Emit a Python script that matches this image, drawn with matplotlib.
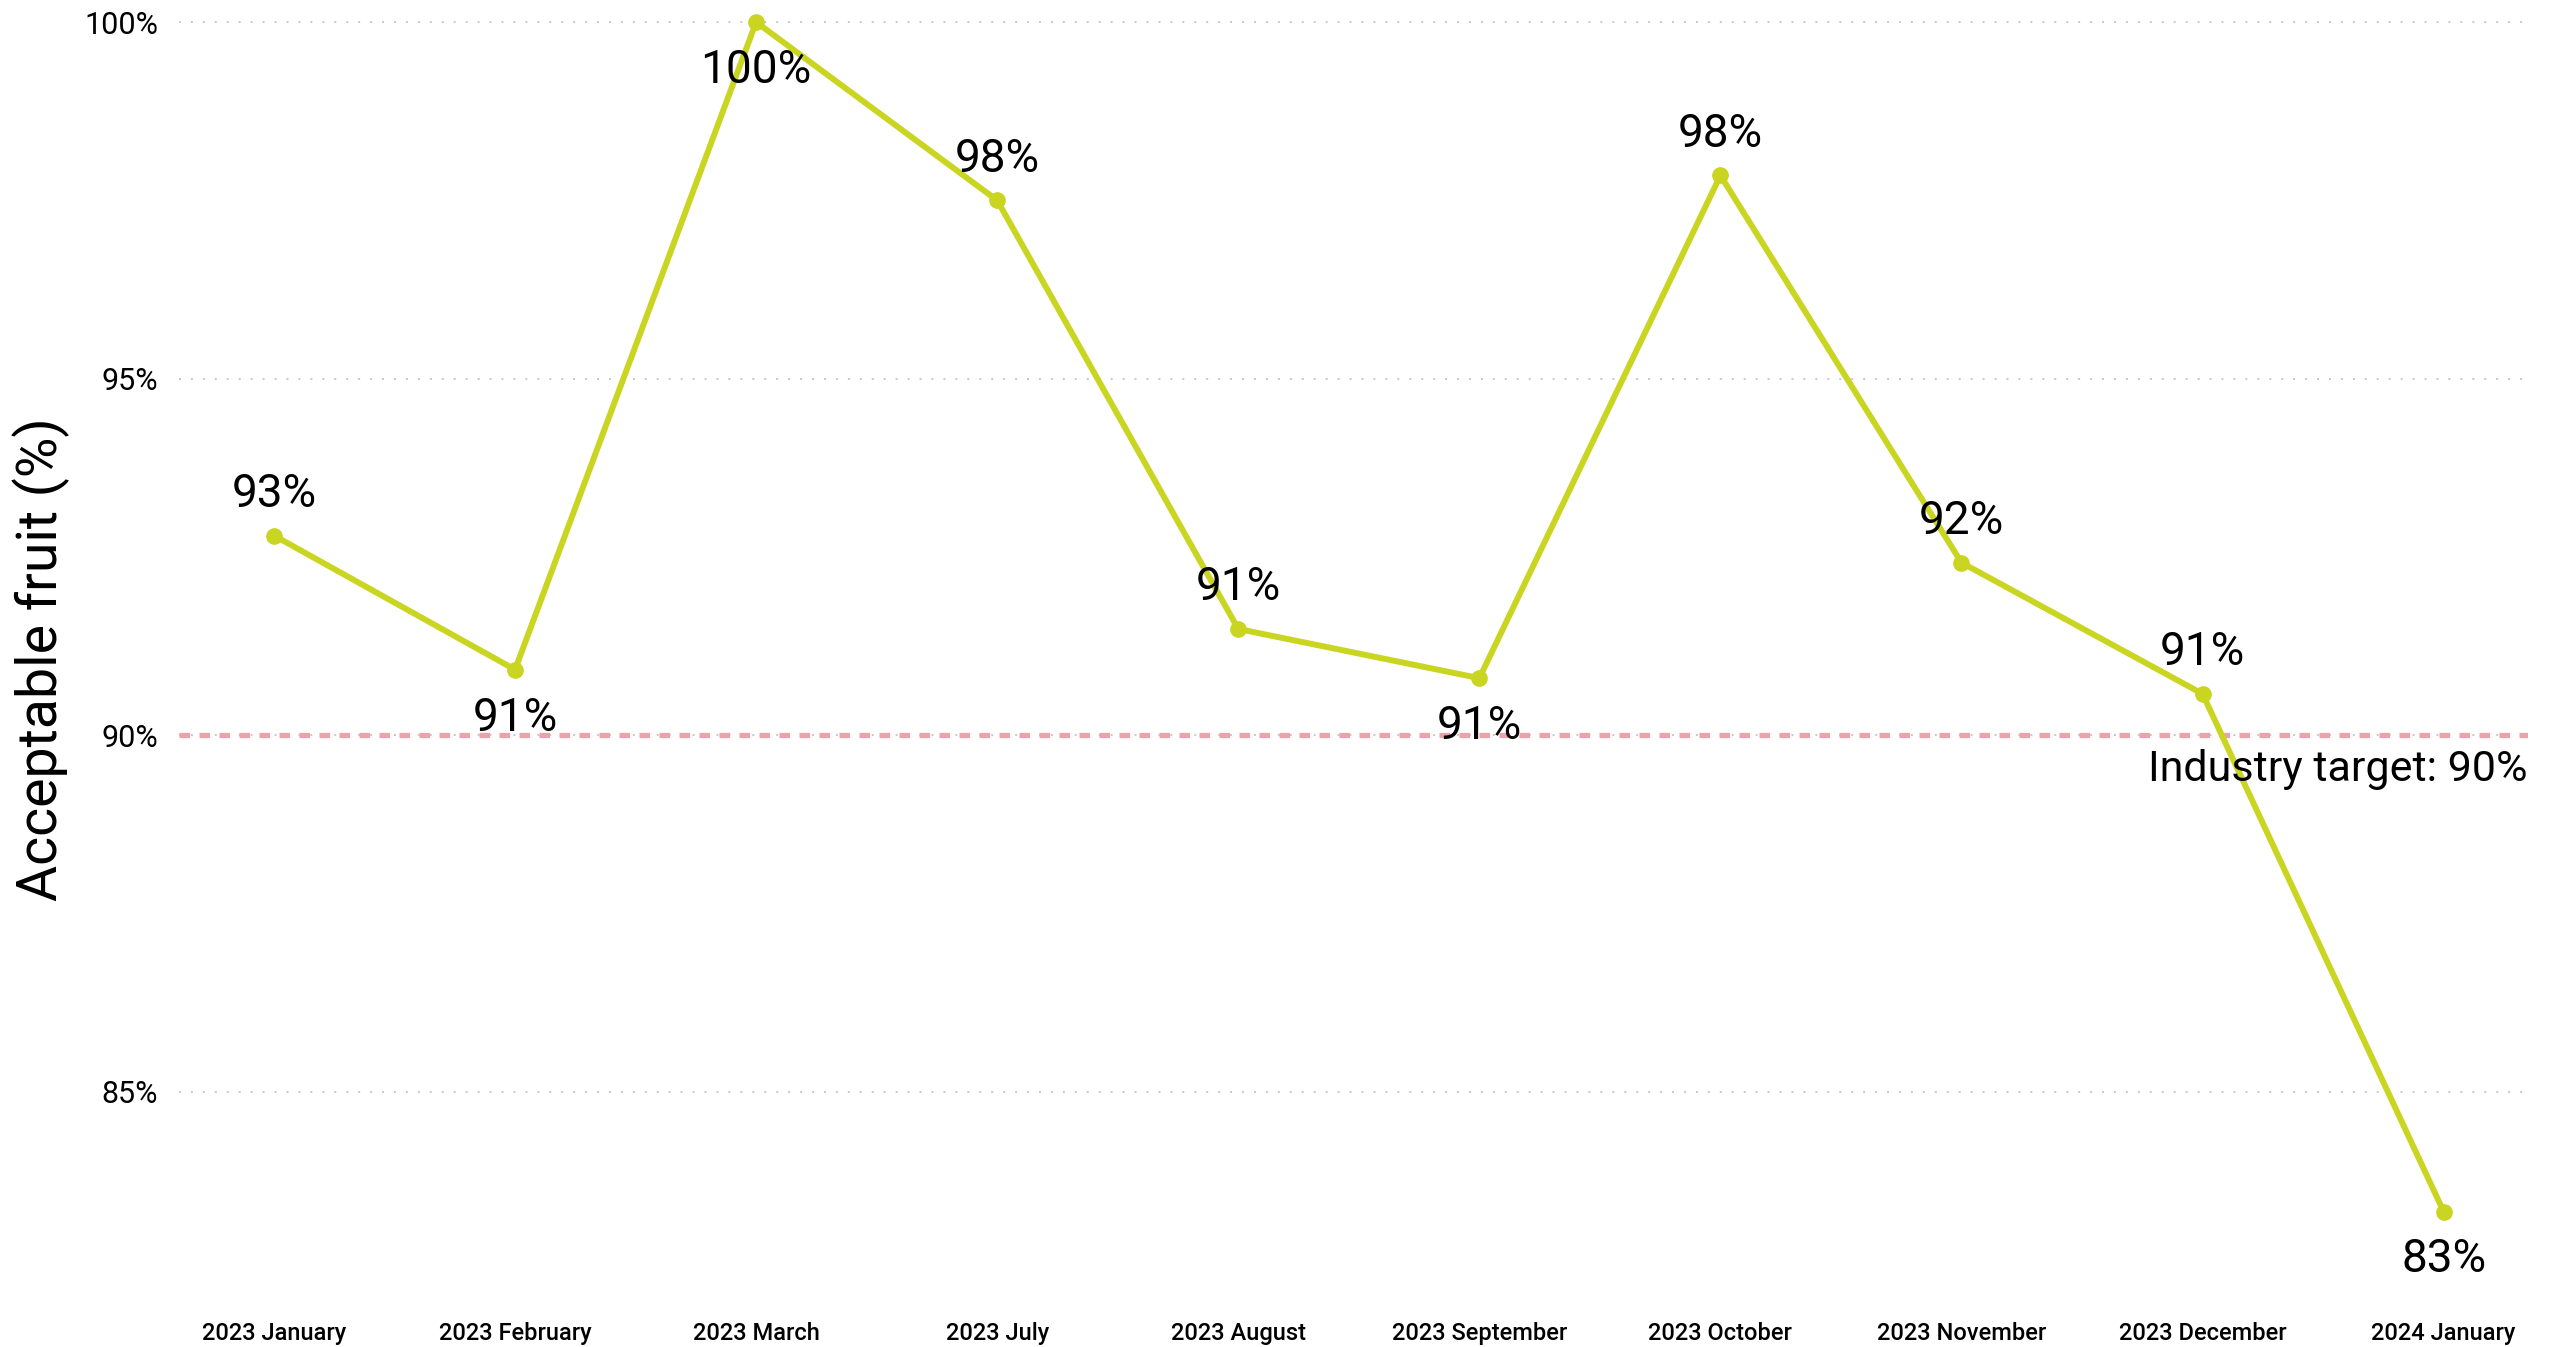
import matplotlib
matplotlib.use("Agg")
import matplotlib.pyplot as plt

plt.rcParams['font.family'] = ['Roboto', 'DejaVu Sans']
plt.rcParams['lines.scale_dashes'] = False

months = ["2023 January", "2023 February", "2023 March", "2023 July", "2023 August",
          "2023 September", "2023 October", "2023 November", "2023 December", "2024 January"]
values = [92.8, 90.92, 100.0, 97.5, 91.49, 90.8, 97.85, 92.42, 90.58, 83.32]
label_pos = ["above", "below", "below", "above", "above", "below", "above", "above", "above", "below"]
target = 90
yticks = [85, 90, 95, 100]

W, H = 2557, 1347
fig = plt.figure(figsize=(W / 100, H / 100), dpi=100)
left, right, top, bottom = 179, 2528, 0, 1300
ax = fig.add_axes([left / W, 1 - bottom / H, (right - left) / W, (bottom - top) / H])

x = list(range(len(months)))
line_color = '#C9D520'
ax.plot(x, values, color=line_color, lw=4.3, marker='o', ms=11, zorder=4,
        solid_capstyle='round', solid_joinstyle='round')

for xi, v, pos in zip(x, values, label_pos):
    off = 30 if pos == "above" else -34.5
    ax.annotate(f"{round(v):.0f}%", (xi, v), xytext=(0, off), textcoords='offset points',
                ha='center', va='center', fontsize=33, color='black', zorder=6)

for t in yticks:
    ax.axhline(t, color='#C8C8C8', lw=1.4, linestyle=(0, (1.4, 7.2)), zorder=1)
ax.axhline(target, color='#E9A3AB', lw=3.8, linestyle=(0, (7.6, 6.8)), zorder=2)
ax.text(9.35, target - 0.19, f"Industry target: {target}%", ha='right', va='top',
        fontsize=31, color='black', zorder=5)

ax.set_xlim(-0.394, 9.35)
ax.set_ylim(82.08, 100.31)
ax.set_yticks(yticks)
ax.set_yticklabels([f"{t}%" for t in yticks], fontsize=22)
ax.set_xticks(x)
ax.set_xticklabels(months, fontsize=17, fontweight='medium')
ax.tick_params(axis='both', length=0, colors='black')
ax.tick_params(axis='y', pad=15)
ax.tick_params(axis='x', pad=15.5)
for s in ax.spines.values():
    s.set_visible(False)

fig.text(41 / W, 1 - 659 / H, "Acceptable fruit (%)", rotation=90, ha='center', va='center',
         fontsize=40, color='black')

fig.savefig("out.png", dpi=100, facecolor='white')
